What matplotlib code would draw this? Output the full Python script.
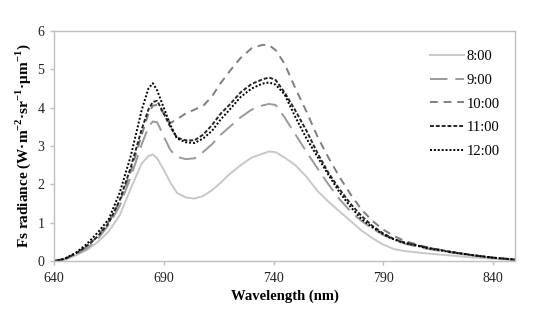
import numpy as np
import matplotlib
matplotlib.use('Agg')
import matplotlib.pyplot as plt

plt.rcParams['font.family'] = ['Liberation Serif', 'DejaVu Serif']
plt.rcParams['mathtext.fontset'] = 'custom'
plt.rcParams['mathtext.rm'] = 'Liberation Serif'
plt.rcParams['mathtext.bf'] = 'Liberation Serif:bold'

# wavelength (nm)
wl = [640, 645, 650, 655, 660, 665, 670, 675, 680, 683, 685, 687, 690, 693, 696, 700, 704, 708,
      712, 716, 720, 725, 730, 735, 738, 741, 745, 750, 755, 760, 765, 770, 775, 780, 785, 790,
      795, 800, 810, 820, 830, 840, 850]

# Fs radiance for each hour
fs_8 = [0, 0.04, 0.15, 0.29, 0.5, 0.78, 1.2, 1.9, 2.55, 2.74, 2.78, 2.68, 2.38, 2.05, 1.78, 1.66,
        1.63, 1.7, 1.85, 2.05, 2.27, 2.5, 2.7, 2.8, 2.86, 2.84, 2.7, 2.5, 2.2, 1.83, 1.55, 1.3,
        1.05, 0.8, 0.6, 0.43, 0.31, 0.26, 0.2, 0.15, 0.1, 0.06, 0.03]
fs_9 = [0, 0.05, 0.17, 0.33, 0.58, 0.95, 1.45, 2.2, 3.05, 3.5, 3.64, 3.62, 3.25, 2.9, 2.72, 2.66,
        2.68, 2.85, 3.05, 3.3, 3.5, 3.75, 3.95, 4.06, 4.1, 4.07, 3.75, 3.3, 2.85, 2.42, 2.0, 1.62,
        1.3, 1.05, 0.85, 0.68, 0.55, 0.45, 0.32, 0.23, 0.15, 0.08, 0.03]
fs_10 = [0, 0.06, 0.2, 0.38, 0.65, 1.05, 1.55, 2.35, 3.3, 3.85, 4.05, 4.08, 3.85, 3.6, 3.7, 3.85,
         3.95, 4.05, 4.3, 4.65, 4.95, 5.3, 5.55, 5.64, 5.63, 5.5, 5.15, 4.5, 3.9, 3.25, 2.7, 2.2,
         1.75, 1.35, 1.05, 0.82, 0.65, 0.52, 0.36, 0.25, 0.16, 0.09, 0.04]
fs_11 = [0, 0.06, 0.2, 0.4, 0.65, 1.0, 1.6, 2.45, 3.45, 3.95, 4.15, 4.18, 3.85, 3.5, 3.22, 3.15,
         3.15, 3.3, 3.55, 3.85, 4.08, 4.4, 4.62, 4.74, 4.79, 4.72, 4.4, 3.92, 3.4, 2.82, 2.3, 1.88,
         1.5, 1.18, 0.92, 0.72, 0.57, 0.48, 0.35, 0.25, 0.16, 0.09, 0.04]
fs_12 = [0, 0.07, 0.22, 0.45, 0.75, 1.1, 1.8, 2.75, 3.95, 4.5, 4.64, 4.45, 4.0, 3.55, 3.2, 3.1,
         3.08, 3.2, 3.4, 3.7, 3.95, 4.28, 4.5, 4.63, 4.66, 4.6, 4.35, 3.75, 3.2, 2.72, 2.25, 1.8,
         1.42, 1.1, 0.88, 0.7, 0.56, 0.47, 0.34, 0.24, 0.16, 0.09, 0.04]

labels = ['8:00', '9:00', '10:00', '11:00', '12:00']
series = [fs_8, fs_9, fs_10, fs_11, fs_12]
colors = ['#c8c8c8', '#9a9a9a', '#7f7f7f', '#262626', '#000000']
dashes = [None, (9, 4), (4, 3), (2, 1), (1, 1)]

fig = plt.figure(figsize=(5.44, 3.2), dpi=100)
ax = fig.add_axes([0.0993, 0.184, 0.8474, 0.719])

for y, lab, c, d in zip(series, labels, colors, dashes):
    line, = ax.plot(wl, y, color=c, lw=1.4, label=lab)
    if d is not None:
        line.set_dashes(d)

ax.set_xlim(640, 850)
ax.set_ylim(0, 6)
ax.set_xticks([640, 690, 740, 790, 840])
ax.set_yticks([0, 1, 2, 3, 4, 5, 6])
for s in ax.spines.values():
    s.set_color('#bfbfbf')
    s.set_linewidth(1)
ax.tick_params(axis='both', colors='#bfbfbf', labelcolor='#222222', labelsize=10, length=3, width=1)
ax.tick_params(axis='x', pad=5)
ax.tick_params(axis='y', pad=4)

ax.set_xlabel('Wavelength (nm)', fontsize=10.5, fontweight='bold', labelpad=3)
ax.set_ylabel(r'Fs radiance (W·m$^{\mathbf{-2}}$·sr$^{\mathbf{-1}}$·μm$^{\mathbf{-1}}$)',
              fontsize=11, fontweight='bold', labelpad=3)

ax.legend(loc='upper right', bbox_to_anchor=(0.995, 0.975), frameon=False, fontsize=10.5,
          handlelength=2.3, handletextpad=0.2, labelspacing=0.72)

fig.savefig('out.png', dpi=100)
